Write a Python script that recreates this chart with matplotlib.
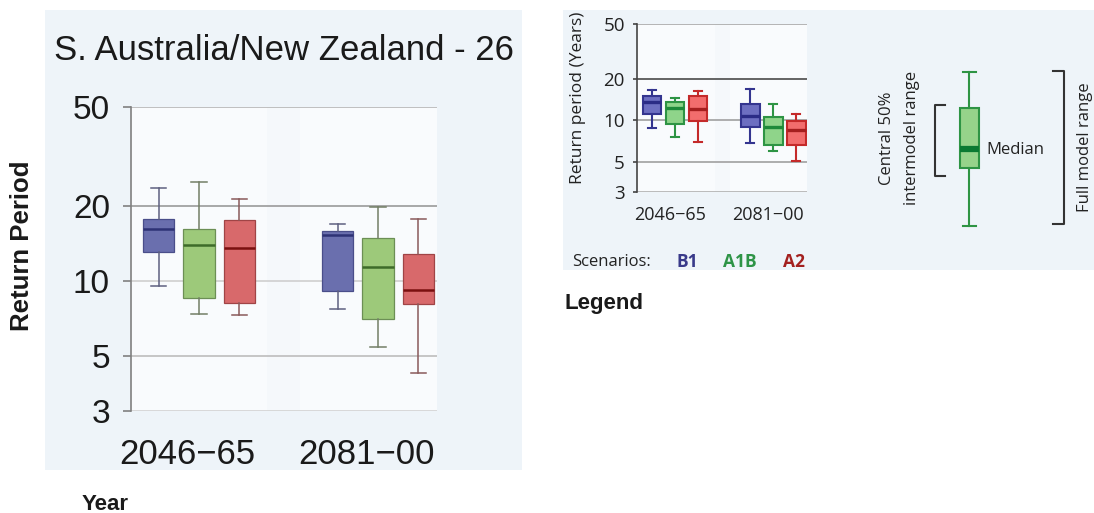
import matplotlib
matplotlib.use("Agg")
import matplotlib.pyplot as plt
from matplotlib.transforms import ScaledTranslation
from matplotlib.patches import Rectangle
from matplotlib.lines import Line2D

# ---------------- data ----------------
periods = ["2046\u221265", "2081\u221200"]
scenarios = ["B1", "A1B", "A2"]
yticks = [3, 5, 10, 20, 50]

# Main panel: S. Australia/New Zealand - 26 (return period, years)
main_b1_low = [9.55, 7.72]
main_b1_q1 = [13.0, 9.12]
main_b1_med = [16.1, 15.3]
main_b1_q3 = [17.7, 15.9]
main_b1_high = [23.6, 16.9]

main_a1b_low = [7.35, 5.43]
main_a1b_q1 = [8.52, 7.03]
main_a1b_med = [13.9, 11.3]
main_a1b_q3 = [16.1, 14.8]
main_a1b_high = [25.0, 19.8]

main_a2_low = [7.28, 4.24]
main_a2_q1 = [8.11, 8.08]
main_a2_med = [13.5, 9.14]
main_a2_q3 = [17.5, 12.8]
main_a2_high = [21.3, 17.7]

# Legend example chart
leg_b1_low = [8.84, 6.87]
leg_b1_q1 = [11.2, 8.89]
leg_b1_med = [13.6, 10.7]
leg_b1_q3 = [15.0, 13.1]
leg_b1_high = [16.6, 16.8]

leg_a1b_low = [7.52, 5.95]
leg_a1b_q1 = [9.4, 6.65]
leg_a1b_med = [12.2, 8.98]
leg_a1b_q3 = [13.5, 10.6]
leg_a1b_high = [14.5, 13.1]

leg_a2_low = [6.95, 5.08]
leg_a2_q1 = [9.93, 6.61]
leg_a2_med = [12.1, 8.55]
leg_a2_q3 = [14.9, 9.88]
leg_a2_high = [16.3, 11.2]


def make_stats(low, q1, med, q3, high):
    return [dict(whislo=a, q1=b, med=c, q3=d, whishi=e, fliers=[])
            for a, b, c, d, e in zip(low, q1, med, q3, high)]


main_series = [
    make_stats(main_b1_low, main_b1_q1, main_b1_med, main_b1_q3, main_b1_high),
    make_stats(main_a1b_low, main_a1b_q1, main_a1b_med, main_a1b_q3, main_a1b_high),
    make_stats(main_a2_low, main_a2_q1, main_a2_med, main_a2_q3, main_a2_high),
]
leg_series = [
    make_stats(leg_b1_low, leg_b1_q1, leg_b1_med, leg_b1_q3, leg_b1_high),
    make_stats(leg_a1b_low, leg_a1b_q1, leg_a1b_med, leg_a1b_q3, leg_a1b_high),
    make_stats(leg_a2_low, leg_a2_q1, leg_a2_med, leg_a2_q3, leg_a2_high),
]

# ---------------- styles ----------------
ARIAL = ["Liberation Sans", "DejaVu Sans"]
HUMAN = ["Open Sans", "DejaVu Sans"]

main_face = ["#6a6fae", "#9dc97a", "#d8696b"]
main_edge = ["#4a4e8a", "#6c8f55", "#a04446"]
main_median = ["#2e3275", "#3e6b2a", "#7a1010"]
main_whisk = ["#5e6080", "#737f66", "#8a5a5a"]

leg_face = ["#6d6fc1", "#8fd48a", "#f26d6d"]
leg_edge = ["#34358f", "#2e9444", "#c42a2a"]
leg_median = ["#2b2c86", "#1e8a3a", "#a51f1f"]
label_colors = ["#393a8a", "#2e9447", "#a3201f"]

fig = plt.figure(figsize=(10.94, 5.13), dpi=100)

# decorative layer in pixel coordinates
deco = fig.add_axes([0, 0, 1, 1], zorder=-1)
deco.set_xlim(0, 1094)
deco.set_ylim(513, 0)
deco.axis("off")
deco.add_patch(Rectangle((45, 10), 477, 460, facecolor="#eef4f9", edgecolor="none"))
deco.add_patch(Rectangle((563, 10), 531, 260, facecolor="#eef4f9", edgecolor="none"))


def draw_panel(ax, series, faces, edges, medians, whisks, off, width, capw,
               edge_lw, med_lw, wh_lw):
    for i, st in enumerate(series):
        pos = [g + 1 + (i - 1) * off for g in range(len(periods))]
        ax.bxp(st, positions=pos, widths=width, patch_artist=True,
               showfliers=False, capwidths=capw, manage_ticks=False,
               boxprops=dict(facecolor=faces[i], edgecolor=edges[i], linewidth=edge_lw),
               medianprops=dict(color=medians[i], linewidth=med_lw, solid_capstyle="butt"),
               whiskerprops=dict(color=whisks[i], linewidth=wh_lw),
               capprops=dict(color=whisks[i], linewidth=wh_lw))


# ---------------- main panel ----------------
ax = fig.add_axes([0.1195, 0.1994, 0.2797, 0.5926])
ax.set_facecolor("#f9fbfd")
ax.set_yscale("log")
ax.set_ylim(3, 50)
ax.set_xlim(0.6184, 2.328)
ax.axvspan(1.38, 1.564, color="#f5f8fb", zorder=0, lw=0)
main_grid = ["#d2d2d2", "#bdbdbd", "#cfcfcf", "#9a9a9a", "#b5b5b5"]
for v, c in zip(yticks, main_grid):
    ax.axhline(v, color=c, lw=1.2, zorder=0.5)
draw_panel(ax, main_series, main_face, main_edge, main_median, main_whisk,
           0.226, 0.177, 0.085, 0.9, 1.8, 1.1)
ax.set_yticks(yticks)
ax.set_yticklabels([str(v) for v in yticks])
ax.yaxis.set_minor_locator(matplotlib.ticker.NullLocator())
ax.set_xticks([1, 2])
ax.set_xticklabels(periods)
for s in ["top", "right", "bottom"]:
    ax.spines[s].set_visible(False)
ax.spines["left"].set_color("#808080")
ax.spines["left"].set_linewidth(1.2)
ax.tick_params(axis="y", length=6, width=1.2, color="#808080", pad=9,
               labelsize=24, labelcolor="#1a1a1a")
ax.tick_params(axis="x", length=0, pad=20, labelsize=25, labelcolor="#1a1a1a")
for lab in ax.get_yticklabels() + ax.get_xticklabels():
    lab.set_fontfamily(ARIAL)
for lab in ax.get_xticklabels():
    lab.set_transform(lab.get_transform() + ScaledTranslation(-0.12, 0, fig.dpi_scale_trans))

fig.text(283.7 / 1094, 1 - 60 / 513, "S. Australia/New Zealand - 26",
         family=ARIAL, fontsize=25, ha="center", va="baseline", color="#1a1a1a")
fig.text(22.5 / 1094, 1 - 245.5 / 513, "Return Period", family=ARIAL,
         fontweight="bold", fontsize=18.5, rotation=90, ha="center", va="center",
         color="#1a1a1a")
fig.text(81.7 / 1094, 1 - 510 / 513, "Year", family=ARIAL, fontweight="bold",
         fontsize=16, ha="left", va="baseline", color="#1a1a1a")
fig.text(565 / 1094, 1 - 309.3 / 513, "Legend", family=ARIAL, fontweight="bold",
         fontsize=16, ha="left", va="baseline", color="#1a1a1a")

# ---------------- legend example chart ----------------
ax2 = fig.add_axes([0.5825, 0.6251, 0.1548, 0.3281])
ax2.set_facecolor("#f9fbfd")
ax2.set_yscale("log")
ax2.set_ylim(3, 50)
ax2.set_xlim(0.6173, 2.337)
ax2.axvspan(1.406, 1.558, color="#f5f8fb", zorder=0, lw=0)
leg_grid = ["#b0b0b0", "#a0a0a0", "#a0a0a0", "#4a4a4a", "#a8a8a8"]
for v, c in zip(yticks, leg_grid):
    ax2.axhline(v, color=c, lw=1.2, zorder=0.5)
draw_panel(ax2, leg_series, leg_face, leg_edge, leg_median, leg_edge,
           0.2335, 0.188, 0.08, 1.5, 2.4, 1.5)
ax2.set_yticks(yticks)
ax2.set_yticklabels([str(v) for v in yticks])
ax2.yaxis.set_minor_locator(matplotlib.ticker.NullLocator())
ax2.set_xticks([1, 2])
ax2.set_xticklabels(periods)
for s in ["top", "right", "bottom"]:
    ax2.spines[s].set_visible(False)
ax2.spines["left"].set_color("#444444")
ax2.spines["left"].set_linewidth(1.2)
ax2.tick_params(axis="y", length=3, width=1.2, color="#444444", pad=6,
                labelsize=13.5, labelcolor="#222222")
ax2.tick_params(axis="x", length=0, pad=10, labelsize=13, labelcolor="#222222")
for lab in ax2.get_yticklabels() + ax2.get_xticklabels():
    lab.set_fontfamily(HUMAN)
for lab in ax2.get_xticklabels():
    lab.set_transform(lab.get_transform() + ScaledTranslation(-0.05, 0, fig.dpi_scale_trans))

fig.text(578 / 1094, 1 - 97.5 / 513, "Return period (Years)", family=HUMAN,
         fontsize=12.5, rotation=90, ha="center", va="center", color="#222222")
fig.text(571.7 / 1094, 1 - 261.7 / 513, "Scenarios:", family=HUMAN, fontsize=12,
         ha="left", va="center", color="#222222")
for name, x, c in zip(scenarios, [676.7, 722.7, 783.0], label_colors):
    fig.text(x / 1094, 1 - 261.7 / 513, name, family=HUMAN, fontsize=12.5,
             fontweight="bold", ha="left", va="center", color=c)

# ---------------- schematic legend box ----------------
sx = 969.3
deco.add_line(Line2D([sx, sx], [72.3, 107.7], color="#2e9444", lw=1.5))
deco.add_line(Line2D([sx, sx], [168.3, 226], color="#2e9444", lw=1.5))
deco.add_line(Line2D([963, 975.7], [72.3, 72.3], color="#2e9444", lw=1.5))
deco.add_line(Line2D([963, 975.7], [226, 226], color="#2e9444", lw=1.5))
deco.add_patch(Rectangle((960, 107.7), 18.7, 60.6, facecolor="#96d38a",
                         edgecolor="#2e9444", lw=1.5))
deco.add_line(Line2D([960, 978.7], [149.3, 149.3], color="#0b7a32", lw=4.5,
                     solid_capstyle="butt"))
deco.text(986, 150, "Median", family=HUMAN, fontsize=12, ha="left", va="center",
          color="#222222")
# brackets
deco.add_line(Line2D([945, 935, 935, 945], [105, 105, 175.7, 175.7], color="#333333", lw=1.5))
deco.add_line(Line2D([1053, 1064, 1064, 1053], [70.7, 70.7, 224.3, 224.3], color="#333333", lw=1.5))
deco.text(886.7, 138, "Central 50%", family=HUMAN, fontsize=12, rotation=90,
          ha="center", va="center", color="#222222")
deco.text(911.7, 138, "intermodel range", family=HUMAN, fontsize=12, rotation=90,
          ha="center", va="center", color="#222222")
deco.text(1085, 147, "Full model range", family=HUMAN, fontsize=12, rotation=90,
          ha="center", va="center", color="#222222")

fig.savefig("out.png", dpi=100)
